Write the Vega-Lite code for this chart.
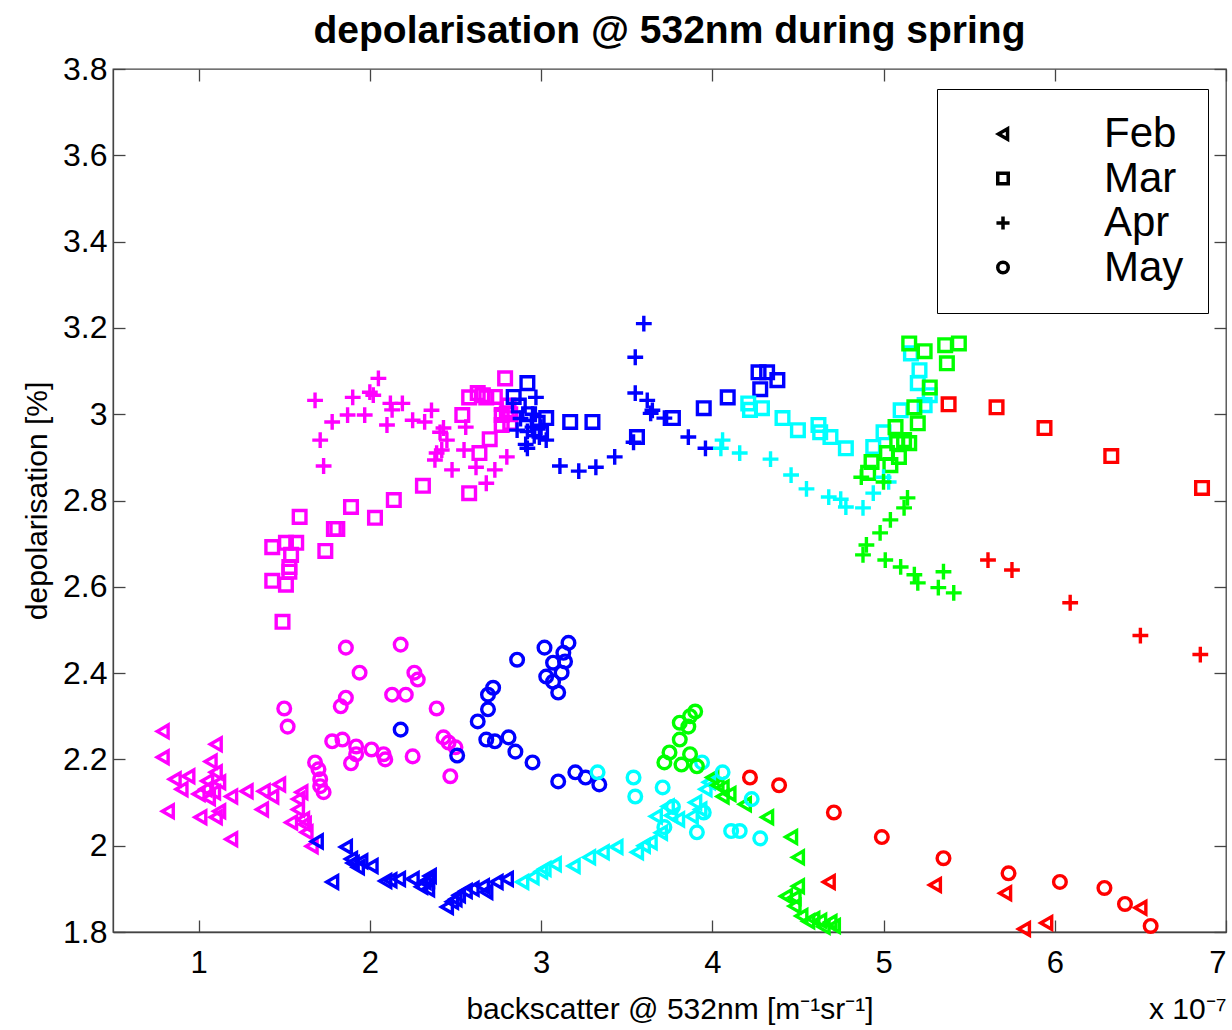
{
"$schema": "https://vega.github.io/schema/vega-lite/v6.json",
"width": 1113, "height": 863,
"autosize": "none",
"padding": {"left": 113, "top": 69, "right": 6, "bottom": 98},
"background": "white",
"config": {"font": "Liberation Sans", "view": {"stroke": "#444", "strokeWidth": 1.3}},
"title": {"text": "depolarisation @ 532nm during spring", "fontSize": 39, "fontWeight": "bold", "font": "Liberation Sans", "color": "black", "anchor": "middle", "offset": 2},
"datasets": {
"pts": [
{"m":"Feb","b":"b1","x":0.79,"y":2.265},{"m":"Feb","b":"b1","x":0.79,"y":2.205},{"m":"Feb","b":"b1","x":0.86,"y":2.154},{"m":"Feb","b":"b1","x":0.90,"y":2.131},{"m":"Feb","b":"b1","x":0.94,"y":2.161},{"m":"Feb","b":"b1","x":0.82,"y":2.08},{"m":"Feb","b":"b1","x":1.10,"y":2.235},{"m":"Feb","b":"b1","x":1.07,"y":2.195},{"m":"Feb","b":"b1","x":1.10,"y":2.17},{"m":"Feb","b":"b1","x":1.12,"y":2.147},{"m":"Feb","b":"b1","x":1.04,"y":2.131},{"m":"Feb","b":"b1","x":1.09,"y":2.124},{"m":"Feb","b":"b1","x":1.01,"y":2.066},{"m":"Feb","b":"b1","x":1.10,"y":2.066},{"m":"Feb","b":"b1","x":1.12,"y":2.08},{"m":"Feb","b":"b1","x":1.19,"y":2.015},{"m":"Feb","b":"b1","x":1.19,"y":2.114},{"m":"Feb","b":"b1","x":1.28,"y":2.126},{"m":"Feb","b":"b1","x":1.37,"y":2.084},{"m":"Feb","b":"b1","x":1.38,"y":2.126},{"m":"Feb","b":"b1","x":1.43,"y":2.114},{"m":"Feb","b":"b1","x":1.47,"y":2.142},{"m":"Feb","b":"b1","x":1.58,"y":2.108},{"m":"Feb","b":"b1","x":1.60,"y":2.124},{"m":"Feb","b":"b1","x":1.54,"y":2.054},{"m":"Feb","b":"b1","x":1.61,"y":2.061},{"m":"Feb","b":"b1","x":1.58,"y":2.084},{"m":"Feb","b":"b1","x":1.63,"y":2.031},{"m":"Feb","b":"b1","x":1.66,"y":1.999},{"m":"Feb","b":"b1","x":1.0,"y":2.12},{"m":"Feb","b":"b1","x":1.05,"y":2.15},{"m":"Feb","b":"b1","x":1.06,"y":2.11},{"m":"Feb","b":"b1","x":1.62,"y":2.05},
{"m":"Feb","b":"b2","x":1.69,"y":2.01},{"m":"Feb","b":"b2","x":1.78,"y":1.916},{"m":"Feb","b":"b2","x":1.86,"y":1.997},{"m":"Feb","b":"b2","x":1.89,"y":1.969},{"m":"Feb","b":"b2","x":1.95,"y":1.964},{"m":"Feb","b":"b2","x":2.01,"y":1.953},{"m":"Feb","b":"b2","x":2.09,"y":1.918},{"m":"Feb","b":"b2","x":2.17,"y":1.923},{"m":"Feb","b":"b2","x":2.25,"y":1.923},{"m":"Feb","b":"b2","x":2.32,"y":1.916},{"m":"Feb","b":"b2","x":2.34,"y":1.899},{"m":"Feb","b":"b2","x":2.35,"y":1.93},{"m":"Feb","b":"b2","x":2.45,"y":1.858},{"m":"Feb","b":"b2","x":2.50,"y":1.876},{"m":"Feb","b":"b2","x":2.56,"y":1.895},{"m":"Feb","b":"b2","x":2.66,"y":1.906},{"m":"Feb","b":"b2","x":2.68,"y":1.893},{"m":"Feb","b":"b2","x":2.74,"y":1.916},{"m":"Feb","b":"b2","x":2.80,"y":1.923},{"m":"Feb","b":"b2","x":1.90,"y":1.96},{"m":"Feb","b":"b2","x":1.93,"y":1.95},{"m":"Feb","b":"b2","x":2.12,"y":1.92},{"m":"Feb","b":"b2","x":2.30,"y":1.905},{"m":"Feb","b":"b2","x":2.34,"y":1.92},{"m":"Feb","b":"b2","x":2.60,"y":1.90},{"m":"Feb","b":"b2","x":2.52,"y":1.885},{"m":"Feb","b":"b2","x":2.48,"y":1.87},
{"m":"Feb","b":"b3","x":2.89,"y":1.916},{"m":"Feb","b":"b3","x":2.95,"y":1.927},{"m":"Feb","b":"b3","x":3.02,"y":1.946},{"m":"Feb","b":"b3","x":3.08,"y":1.957},{"m":"Feb","b":"b3","x":3.19,"y":1.953},{"m":"Feb","b":"b3","x":3.28,"y":1.973},{"m":"Feb","b":"b3","x":3.36,"y":1.985},{"m":"Feb","b":"b3","x":3.44,"y":1.997},{"m":"Feb","b":"b3","x":3.56,"y":1.985},{"m":"Feb","b":"b3","x":3.64,"y":2.008},{"m":"Feb","b":"b3","x":3.67,"y":2.068},{"m":"Feb","b":"b3","x":3.74,"y":2.091},{"m":"Feb","b":"b3","x":3.80,"y":2.061},{"m":"Feb","b":"b3","x":3.88,"y":2.068},{"m":"Feb","b":"b3","x":3.93,"y":2.084},{"m":"Feb","b":"b3","x":3.96,"y":2.131},{"m":"Feb","b":"b3","x":3.98,"y":2.147},{"m":"Feb","b":"b3","x":3.00,"y":1.94},{"m":"Feb","b":"b3","x":3.70,"y":2.03},{"m":"Feb","b":"b3","x":3.60,"y":2.00},{"m":"Feb","b":"b3","x":3.90,"y":2.10},{"m":"Feb","b":"b3","x":3.76,"y":2.07},
{"m":"Feb","b":"b4","x":4.00,"y":2.158},{"m":"Feb","b":"b4","x":4.06,"y":2.135},{"m":"Feb","b":"b4","x":4.06,"y":2.114},{"m":"Feb","b":"b4","x":4.19,"y":2.096},{"m":"Feb","b":"b4","x":4.32,"y":2.066},{"m":"Feb","b":"b4","x":4.46,"y":2.02},{"m":"Feb","b":"b4","x":4.50,"y":1.973},{"m":"Feb","b":"b4","x":4.50,"y":1.906},{"m":"Feb","b":"b4","x":4.43,"y":1.883},{"m":"Feb","b":"b4","x":4.48,"y":1.86},{"m":"Feb","b":"b4","x":4.52,"y":1.837},{"m":"Feb","b":"b4","x":4.59,"y":1.83},{"m":"Feb","b":"b4","x":4.63,"y":1.826},{"m":"Feb","b":"b4","x":4.69,"y":1.823},{"m":"Feb","b":"b4","x":4.71,"y":1.814},{"m":"Feb","b":"b4","x":4.65,"y":1.812},{"m":"Feb","b":"b4","x":4.48,"y":1.88},{"m":"Feb","b":"b4","x":4.56,"y":1.825},{"m":"Feb","b":"b4","x":4.10,"y":2.12},{"m":"Feb","b":"b4","x":4.03,"y":2.14},
{"m":"Feb","b":"b5","x":4.68,"y":1.916},{"m":"Feb","b":"b5","x":5.30,"y":1.909},{"m":"Feb","b":"b5","x":5.71,"y":1.89},{"m":"Feb","b":"b5","x":5.82,"y":1.807},{"m":"Feb","b":"b5","x":5.95,"y":1.821},{"m":"Feb","b":"b5","x":6.50,"y":1.856},
{"m":"Mar","b":"b1","x":1.43,"y":2.692},{"m":"Mar","b":"b1","x":1.43,"y":2.614},{"m":"Mar","b":"b1","x":1.49,"y":2.519},{"m":"Mar","b":"b1","x":1.51,"y":2.702},{"m":"Mar","b":"b1","x":1.57,"y":2.702},{"m":"Mar","b":"b1","x":1.54,"y":2.674},{"m":"Mar","b":"b1","x":1.53,"y":2.646},{"m":"Mar","b":"b1","x":1.53,"y":2.635},{"m":"Mar","b":"b1","x":1.51,"y":2.605},{"m":"Mar","b":"b1","x":1.59,"y":2.762},{"m":"Mar","b":"b1","x":1.74,"y":2.683},{"m":"Mar","b":"b1","x":1.79,"y":2.734},{"m":"Mar","b":"b1","x":1.81,"y":2.734},{"m":"Mar","b":"b1","x":1.89,"y":2.785},{"m":"Mar","b":"b1","x":2.03,"y":2.76},{"m":"Mar","b":"b1","x":2.14,"y":2.801},{"m":"Mar","b":"b1","x":2.31,"y":2.834},{"m":"Mar","b":"b1","x":2.54,"y":2.998},{"m":"Mar","b":"b1","x":2.58,"y":2.817},{"m":"Mar","b":"b1","x":2.64,"y":2.91},{"m":"Mar","b":"b1","x":2.70,"y":2.942},{"m":"Mar","b":"b1","x":2.58,"y":3.039},{"m":"Mar","b":"b1","x":2.63,"y":3.049},{"m":"Mar","b":"b1","x":2.68,"y":3.039},{"m":"Mar","b":"b1","x":2.79,"y":3.083},{"m":"Mar","b":"b1","x":2.77,"y":2.998},{"m":"Mar","b":"b1","x":2.80,"y":3.002},{"m":"Mar","b":"b1","x":2.77,"y":2.975},{"m":"Mar","b":"b1","x":2.82,"y":3.0},{"m":"Mar","b":"b1","x":2.73,"y":3.04},{"m":"Mar","b":"b1","x":2.66,"y":3.044},{"m":"Mar","b":"b1","x":2.82,"y":2.98},{"m":"Mar","b":"b1","x":2.81,"y":3.02},
{"m":"Mar","b":"b2","x":2.92,"y":3.072},{"m":"Mar","b":"b2","x":3.03,"y":2.991},{"m":"Mar","b":"b2","x":3.17,"y":2.982},{"m":"Mar","b":"b2","x":3.30,"y":2.982},{"m":"Mar","b":"b2","x":3.56,"y":2.947},{"m":"Mar","b":"b2","x":3.77,"y":2.991},{"m":"Mar","b":"b2","x":3.95,"y":3.014},{"m":"Mar","b":"b2","x":4.09,"y":3.039},{"m":"Mar","b":"b2","x":4.27,"y":3.097},{"m":"Mar","b":"b2","x":4.32,"y":3.097},{"m":"Mar","b":"b2","x":4.38,"y":3.079},{"m":"Mar","b":"b2","x":4.28,"y":3.058},{"m":"Mar","b":"b2","x":2.84,"y":3.04},{"m":"Mar","b":"b2","x":2.87,"y":3.02},{"m":"Mar","b":"b2","x":2.93,"y":3.0},{"m":"Mar","b":"b2","x":2.98,"y":2.98},{"m":"Mar","b":"b2","x":3.00,"y":2.96},
{"m":"Mar","b":"b3","x":4.21,"y":3.025},{"m":"Mar","b":"b3","x":4.29,"y":3.014},{"m":"Mar","b":"b3","x":4.41,"y":2.991},{"m":"Mar","b":"b3","x":4.50,"y":2.963},{"m":"Mar","b":"b3","x":4.62,"y":2.975},{"m":"Mar","b":"b3","x":4.63,"y":2.958},{"m":"Mar","b":"b3","x":4.69,"y":2.947},{"m":"Mar","b":"b3","x":4.78,"y":2.921},{"m":"Mar","b":"b3","x":4.94,"y":2.924},{"m":"Mar","b":"b3","x":5.00,"y":2.958},{"m":"Mar","b":"b3","x":5.10,"y":3.009},{"m":"Mar","b":"b3","x":5.16,"y":3.141},{"m":"Mar","b":"b3","x":5.21,"y":3.102},{"m":"Mar","b":"b3","x":5.20,"y":3.072},{"m":"Mar","b":"b3","x":5.27,"y":3.044},{"m":"Mar","b":"b3","x":5.24,"y":3.021},{"m":"Mar","b":"b3","x":4.22,"y":3.01},
{"m":"Mar","b":"b4","x":5.15,"y":3.164},{"m":"Mar","b":"b4","x":5.24,"y":3.146},{"m":"Mar","b":"b4","x":5.36,"y":3.16},{"m":"Mar","b":"b4","x":5.44,"y":3.164},{"m":"Mar","b":"b4","x":5.37,"y":3.118},{"m":"Mar","b":"b4","x":5.27,"y":3.062},{"m":"Mar","b":"b4","x":5.18,"y":3.016},{"m":"Mar","b":"b4","x":5.20,"y":2.979},{"m":"Mar","b":"b4","x":5.07,"y":2.97},{"m":"Mar","b":"b4","x":5.08,"y":2.933},{"m":"Mar","b":"b4","x":5.15,"y":2.933},{"m":"Mar","b":"b4","x":5.09,"y":2.901},{"m":"Mar","b":"b4","x":4.93,"y":2.889},{"m":"Mar","b":"b4","x":5.04,"y":2.882},{"m":"Mar","b":"b4","x":4.91,"y":2.864},{"m":"Mar","b":"b4","x":5.12,"y":2.94},{"m":"Mar","b":"b4","x":5.02,"y":2.91},
{"m":"Mar","b":"b5","x":5.38,"y":3.023},{"m":"Mar","b":"b5","x":5.66,"y":3.016},{"m":"Mar","b":"b5","x":5.94,"y":2.968},{"m":"Mar","b":"b5","x":6.33,"y":2.903},{"m":"Mar","b":"b5","x":6.86,"y":2.829},
{"m":"Apr","b":"b1","x":1.68,"y":3.032},{"m":"Apr","b":"b1","x":1.71,"y":2.94},{"m":"Apr","b":"b1","x":1.73,"y":2.88},{"m":"Apr","b":"b1","x":1.78,"y":2.982},{"m":"Apr","b":"b1","x":1.87,"y":2.998},{"m":"Apr","b":"b1","x":1.90,"y":3.039},{"m":"Apr","b":"b1","x":1.97,"y":2.998},{"m":"Apr","b":"b1","x":2.00,"y":3.051},{"m":"Apr","b":"b1","x":2.02,"y":3.044},{"m":"Apr","b":"b1","x":2.05,"y":3.083},{"m":"Apr","b":"b1","x":2.10,"y":2.975},{"m":"Apr","b":"b1","x":2.12,"y":3.025},{"m":"Apr","b":"b1","x":2.19,"y":3.025},{"m":"Apr","b":"b1","x":2.13,"y":3.01},{"m":"Apr","b":"b1","x":2.25,"y":2.986},{"m":"Apr","b":"b1","x":2.32,"y":2.982},{"m":"Apr","b":"b1","x":2.36,"y":3.009},{"m":"Apr","b":"b1","x":2.41,"y":2.958},{"m":"Apr","b":"b1","x":2.43,"y":2.968},{"m":"Apr","b":"b1","x":2.38,"y":2.894},{"m":"Apr","b":"b1","x":2.42,"y":2.917},{"m":"Apr","b":"b1","x":2.48,"y":2.871},{"m":"Apr","b":"b1","x":2.45,"y":2.94},{"m":"Apr","b":"b1","x":2.56,"y":2.97},{"m":"Apr","b":"b1","x":2.55,"y":2.917},{"m":"Apr","b":"b1","x":2.62,"y":2.877},{"m":"Apr","b":"b1","x":2.68,"y":2.84},{"m":"Apr","b":"b1","x":2.73,"y":2.871},{"m":"Apr","b":"b1","x":2.80,"y":2.901},{"m":"Apr","b":"b1","x":2.77,"y":3.009},{"m":"Apr","b":"b1","x":2.39,"y":2.91},
{"m":"Apr","b":"b2","x":2.97,"y":3.039},{"m":"Apr","b":"b2","x":2.86,"y":2.963},{"m":"Apr","b":"b2","x":2.92,"y":2.921},{"m":"Apr","b":"b2","x":2.95,"y":2.97},{"m":"Apr","b":"b2","x":2.99,"y":2.947},{"m":"Apr","b":"b2","x":2.88,"y":2.99},{"m":"Apr","b":"b2","x":2.92,"y":2.96},{"m":"Apr","b":"b2","x":2.96,"y":2.95},{"m":"Apr","b":"b2","x":3.00,"y":2.97},{"m":"Apr","b":"b2","x":2.95,"y":3.0},{"m":"Apr","b":"b2","x":3.03,"y":2.94},{"m":"Apr","b":"b2","x":2.91,"y":2.93},{"m":"Apr","b":"b2","x":3.11,"y":2.88},{"m":"Apr","b":"b2","x":3.22,"y":2.868},{"m":"Apr","b":"b2","x":3.32,"y":2.877},{"m":"Apr","b":"b2","x":3.43,"y":2.901},{"m":"Apr","b":"b2","x":3.54,"y":2.935},{"m":"Apr","b":"b2","x":3.55,"y":3.132},{"m":"Apr","b":"b2","x":3.60,"y":3.21},{"m":"Apr","b":"b2","x":3.55,"y":3.049},{"m":"Apr","b":"b2","x":3.62,"y":3.032},{"m":"Apr","b":"b2","x":3.65,"y":3.009},{"m":"Apr","b":"b2","x":3.64,"y":3.002},{"m":"Apr","b":"b2","x":3.72,"y":2.991},{"m":"Apr","b":"b2","x":3.86,"y":2.947},{"m":"Apr","b":"b2","x":3.96,"y":2.921},
{"m":"Apr","b":"b3","x":4.06,"y":2.94},{"m":"Apr","b":"b3","x":4.05,"y":2.921},{"m":"Apr","b":"b3","x":4.16,"y":2.91},{"m":"Apr","b":"b3","x":4.34,"y":2.896},{"m":"Apr","b":"b3","x":4.46,"y":2.859},{"m":"Apr","b":"b3","x":4.55,"y":2.827},{"m":"Apr","b":"b3","x":4.68,"y":2.808},{"m":"Apr","b":"b3","x":4.75,"y":2.803},{"m":"Apr","b":"b3","x":4.78,"y":2.785},{"m":"Apr","b":"b3","x":4.88,"y":2.783},{"m":"Apr","b":"b3","x":4.94,"y":2.817},{"m":"Apr","b":"b3","x":5.00,"y":2.854},{"m":"Apr","b":"b3","x":5.03,"y":2.843},
{"m":"Apr","b":"b4","x":4.87,"y":2.854},{"m":"Apr","b":"b4","x":5.00,"y":2.843},{"m":"Apr","b":"b4","x":5.14,"y":2.806},{"m":"Apr","b":"b4","x":5.12,"y":2.783},{"m":"Apr","b":"b4","x":5.04,"y":2.755},{"m":"Apr","b":"b4","x":4.98,"y":2.725},{"m":"Apr","b":"b4","x":4.90,"y":2.697},{"m":"Apr","b":"b4","x":4.88,"y":2.674},{"m":"Apr","b":"b4","x":5.01,"y":2.662},{"m":"Apr","b":"b4","x":5.10,"y":2.646},{"m":"Apr","b":"b4","x":5.18,"y":2.628},{"m":"Apr","b":"b4","x":5.20,"y":2.609},{"m":"Apr","b":"b4","x":5.35,"y":2.635},{"m":"Apr","b":"b4","x":5.32,"y":2.598},{"m":"Apr","b":"b4","x":5.41,"y":2.586},
{"m":"Apr","b":"b5","x":5.61,"y":2.662},{"m":"Apr","b":"b5","x":5.75,"y":2.639},{"m":"Apr","b":"b5","x":6.09,"y":2.563},{"m":"Apr","b":"b5","x":6.50,"y":2.487},{"m":"Apr","b":"b5","x":6.85,"y":2.443},
{"m":"May","b":"b1","x":1.86,"y":2.459},{"m":"May","b":"b1","x":2.18,"y":2.466},{"m":"May","b":"b1","x":1.94,"y":2.401},{"m":"May","b":"b1","x":2.26,"y":2.401},{"m":"May","b":"b1","x":2.28,"y":2.385},{"m":"May","b":"b1","x":1.86,"y":2.343},{"m":"May","b":"b1","x":1.83,"y":2.323},{"m":"May","b":"b1","x":2.13,"y":2.35},{"m":"May","b":"b1","x":2.21,"y":2.35},{"m":"May","b":"b1","x":2.39,"y":2.318},{"m":"May","b":"b1","x":1.50,"y":2.318},{"m":"May","b":"b1","x":1.52,"y":2.276},{"m":"May","b":"b1","x":1.78,"y":2.242},{"m":"May","b":"b1","x":1.84,"y":2.246},{"m":"May","b":"b1","x":1.92,"y":2.23},{"m":"May","b":"b1","x":2.01,"y":2.223},{"m":"May","b":"b1","x":2.08,"y":2.212},{"m":"May","b":"b1","x":2.09,"y":2.2},{"m":"May","b":"b1","x":1.92,"y":2.212},{"m":"May","b":"b1","x":1.89,"y":2.191},{"m":"May","b":"b1","x":2.25,"y":2.207},{"m":"May","b":"b1","x":2.43,"y":2.251},{"m":"May","b":"b1","x":2.46,"y":2.239},{"m":"May","b":"b1","x":2.50,"y":2.228},{"m":"May","b":"b1","x":2.47,"y":2.161},{"m":"May","b":"b1","x":1.68,"y":2.193},{"m":"May","b":"b1","x":1.70,"y":2.177},{"m":"May","b":"b1","x":1.71,"y":2.154},{"m":"May","b":"b1","x":1.73,"y":2.124},{"m":"May","b":"b1","x":1.71,"y":2.138},
{"m":"May","b":"b2","x":2.18,"y":2.269},{"m":"May","b":"b2","x":2.51,"y":2.209},{"m":"May","b":"b2","x":2.63,"y":2.288},{"m":"May","b":"b2","x":2.69,"y":2.316},{"m":"May","b":"b2","x":2.69,"y":2.35},{"m":"May","b":"b2","x":2.72,"y":2.366},{"m":"May","b":"b2","x":2.68,"y":2.246},{"m":"May","b":"b2","x":2.73,"y":2.242},{"m":"May","b":"b2","x":2.81,"y":2.251},{"m":"May","b":"b2","x":2.85,"y":2.218},{"m":"May","b":"b2","x":2.95,"y":2.193},{"m":"May","b":"b2","x":2.86,"y":2.431},{"m":"May","b":"b2","x":3.02,"y":2.459},{"m":"May","b":"b2","x":3.16,"y":2.47},{"m":"May","b":"b2","x":3.13,"y":2.447},{"m":"May","b":"b2","x":3.07,"y":2.424},{"m":"May","b":"b2","x":3.14,"y":2.427},{"m":"May","b":"b2","x":3.12,"y":2.401},{"m":"May","b":"b2","x":3.03,"y":2.392},{"m":"May","b":"b2","x":3.07,"y":2.38},{"m":"May","b":"b2","x":3.10,"y":2.355},{"m":"May","b":"b2","x":3.10,"y":2.149},{"m":"May","b":"b2","x":3.20,"y":2.17},{"m":"May","b":"b2","x":3.26,"y":2.158},{"m":"May","b":"b2","x":3.34,"y":2.142},
{"m":"May","b":"b3","x":3.33,"y":2.17},{"m":"May","b":"b3","x":3.54,"y":2.158},{"m":"May","b":"b3","x":3.55,"y":2.114},{"m":"May","b":"b3","x":3.71,"y":2.135},{"m":"May","b":"b3","x":3.72,"y":2.043},{"m":"May","b":"b3","x":3.91,"y":2.031},{"m":"May","b":"b3","x":3.94,"y":2.193},{"m":"May","b":"b3","x":4.06,"y":2.17},{"m":"May","b":"b3","x":4.11,"y":2.034},{"m":"May","b":"b3","x":4.16,"y":2.034},{"m":"May","b":"b3","x":4.23,"y":2.108},{"m":"May","b":"b3","x":4.28,"y":2.017},{"m":"May","b":"b3","x":3.95,"y":2.077},{"m":"May","b":"b3","x":3.77,"y":2.09},
{"m":"May","b":"b4","x":3.90,"y":2.311},{"m":"May","b":"b4","x":3.87,"y":2.30},{"m":"May","b":"b4","x":3.81,"y":2.285},{"m":"May","b":"b4","x":3.86,"y":2.276},{"m":"May","b":"b4","x":3.81,"y":2.246},{"m":"May","b":"b4","x":3.75,"y":2.216},{"m":"May","b":"b4","x":3.87,"y":2.212},{"m":"May","b":"b4","x":3.72,"y":2.193},{"m":"May","b":"b4","x":3.82,"y":2.188},{"m":"May","b":"b4","x":3.91,"y":2.184},
{"m":"May","b":"b5","x":4.22,"y":2.158},{"m":"May","b":"b5","x":4.39,"y":2.14},{"m":"May","b":"b5","x":4.71,"y":2.077},{"m":"May","b":"b5","x":4.99,"y":2.02},{"m":"May","b":"b5","x":5.35,"y":1.971},{"m":"May","b":"b5","x":5.73,"y":1.936},{"m":"May","b":"b5","x":6.03,"y":1.916},{"m":"May","b":"b5","x":6.29,"y":1.902},{"m":"May","b":"b5","x":6.41,"y":1.865},{"m":"May","b":"b5","x":6.56,"y":1.814}
]
},
"data": {"name": "pts"},
"layer": [
{
"mark": {"type": "point", "filled": false, "strokeWidth": 3.4, "size": 160, "opacity": 1},
"encoding": {
"x": {"field": "x", "type": "quantitative",
 "scale": {"domain": [0.5, 7], "nice": false, "zero": false},
 "axis": {"orient": "bottom", "values": [1,2,3,4,5,6,7], "format": "~g", "grid": false,
  "labelFontSize": 31, "labelColor": "black", "labelFont": "Liberation Sans",
  "tickSize": -12, "tickColor": "#444", "tickWidth": 1.3, "domainColor": "#444", "domainWidth": 1.3,
  "labelPadding": 28,
  "title": "backscatter @ 532nm [m⁻¹sr⁻¹]", "titleFontSize": 30, "titleFontWeight": "normal", "titleColor": "black", "titleFont": "Liberation Sans", "titlePadding": 16}},
"y": {"field": "y", "type": "quantitative",
 "scale": {"domain": [1.8, 3.8], "nice": false, "zero": false},
 "axis": {"orient": "left", "values": [1.8,2,2.2,2.4,2.6,2.8,3,3.2,3.4,3.6,3.8], "format": "~g", "grid": false,
  "labelFontSize": 32, "labelColor": "black", "labelFont": "Liberation Sans",
  "tickSize": -12, "tickColor": "#444", "tickWidth": 1.3, "domainColor": "#444", "domainWidth": 1.3,
  "labelPadding": 18,
  "title": "depolarisation [%]", "titleFontSize": 30, "titleFontWeight": "normal", "titleColor": "black", "titleFont": "Liberation Sans", "titlePadding": 10}},
"shape": {"field": "m", "type": "nominal",
 "scale": {"domain": ["Feb","Mar","Apr","May"], "range": ["triangle-left","square","M-1.25,0H1.25M0,-1.25V1.25","circle"]},
 "legend": {"orient": "none", "legendX": 824, "legendY": 20, "title": null,
  "strokeColor": "black", "fillColor": "white", "padding": 24,
  "labelFontSize": 42, "labelFont": "Liberation Sans", "labelColor": "black",
  "symbolSize": 110, "symbolStrokeWidth": 3.5, "symbolStrokeColor": "black", "symbolFillColor": "transparent",
  "symbolOffset": 21, "labelOffset": 80, "rowPadding": 2.5, "labelLimit": 300}},
"color": {"field": "b", "type": "nominal",
 "scale": {"domain": ["b1","b2","b3","b4","b5"], "range": ["#ff00ff","#0000ff","#00ffff","#00ff00","#ff0000"]},
 "legend": null}
}
},
{
"mark": {"type": "point", "opacity": 0},
"encoding": {
"x": {"field": "x", "type": "quantitative", "axis": {"orient": "top", "values": [1,2,3,4,5,6,7], "labels": false, "title": null, "grid": false, "domain": false, "tickSize": -12, "tickColor": "#444", "tickWidth": 1.3}},
"y": {"field": "y", "type": "quantitative", "axis": {"orient": "right", "values": [1.8,2,2.2,2.4,2.6,2.8,3,3.2,3.4,3.6,3.8], "labels": false, "title": null, "grid": false, "domain": false, "tickSize": -12, "tickColor": "#444", "tickWidth": 1.3}}
}
},
{
"mark": {"type": "point", "opacity": 0},
"encoding": {
"x": {"field": "x", "type": "quantitative", "axis": {"orient": "bottom", "labels": false, "ticks": false, "domain": false, "grid": false,
 "title": "x 10⁻⁷", "titleAnchor": "end", "titleAlign": "right", "titleFontSize": 30, "titleFontWeight": "normal", "titleColor": "black", "titleFont": "Liberation Sans", "titlePadding": 62}}
}
}
],
"resolve": {"axis": {"x": "independent", "y": "independent"}}
}
